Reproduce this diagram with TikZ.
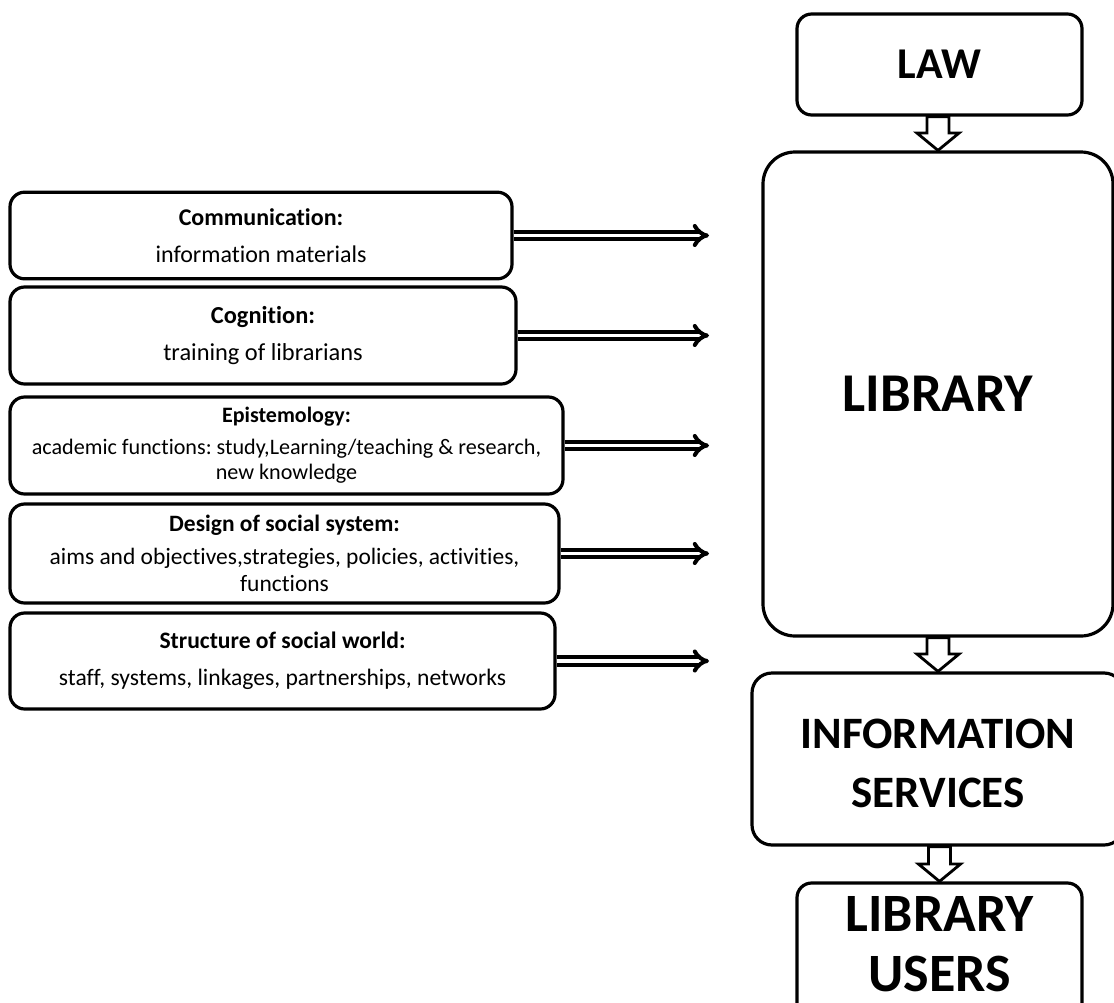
\documentclass[tikz,border=0pt]{standalone}
\usepackage{fontspec}
\setmainfont{Carlito}[Ligatures=NoCommon]
\usetikzlibrary{arrows.meta,calc}
\frenchspacing
\newcommand\hollowarrow[2]{%
  \draw[hol] let \p1=(#1.south), \p2=(#2.north) in
    (\x2-8.25pt,\y1) -- (\x2-8.25pt,\y2+13pt) -- (\x2-15.75pt,\y2+13pt)
    -- (\x2,\y2) -- (\x2+15.75pt,\y2+13pt) -- (\x2+8.25pt,\y2+13pt)
    -- (\x2+8.25pt,\y1) -- cycle;}
\begin{document}
\begin{tikzpicture}[x=0.75pt,y=-0.75pt,
  lbox/.style={draw, line width=2.4pt, rounded corners=11pt, inner sep=0pt,
    align=center, fill=white},
  rbox/.style={draw, line width=2.4pt, inner sep=0pt, align=center,
    font=\bfseries, fill=white},
  rtext/.style={inner sep=0pt, align=center},
  dbl/.style={double, line width=3pt, double distance=2.4pt, -{Implies}},
  hol/.style={draw, line width=2.1pt, fill=white, line join=miter}
]
\useasboundingbox (0,0) rectangle (1114,1003);

% left boxes
\node[lbox, minimum width=376.5pt, minimum height=65pt, font=\fontsize{18}{20}\selectfont]
  (c1) at (261,235.5) {\textbf{Communication:}\\[8pt] information materials};
\node[lbox, minimum width=379.5pt, minimum height=72.75pt, font=\fontsize{18.3}{20}\selectfont]
  (c2) at (263,335.5) {\textbf{Cognition:}\\[8pt] training of librarians};
\node[lbox, minimum width=414.75pt, minimum height=72.75pt, font=\fontsize{16.6}{19}\selectfont]
  (c3) at (286.5,445.5) {{\fontsize{16.5}{16}\selectfont\textbf{Epistemology:}}\\[5pt]
   academic functions: study,Learning/teaching \& research,\\ new knowledge};
\node[lbox, minimum width=411.75pt, minimum height=74.25pt, font=\fontsize{17.6}{20}\selectfont]
  (c4) at (284.5,553.5) {\textbf{Design of social system:}\\[5pt]
   aims and objectives,strategies, policies, activities,\\ functions};
\node[lbox, minimum width=408.75pt, minimum height=72pt, font=\fontsize{17.7}{20}\selectfont]
  (c5) at (282.5,661) {\textbf{Structure of social world:}\\[8pt]
   staff, systems, linkages, partnerships, networks};

\coordinate (tip) at (709,0);
\foreach \n in {c1,c2,c3,c4,c5}
  \draw[dbl] (\n.east) -- (\n.east -| tip);

% right column
\node[rbox, rounded corners=11pt, minimum width=213.75pt, minimum height=75.75pt,
  font=\fontsize{33}{40}\bfseries\selectfont] (law) at (939.5,64.5) {LAW};
\node[rbox, rounded corners=24pt, minimum width=262.5pt, minimum height=363pt,
  font=\fontsize{41}{46}\bfseries\selectfont] (lib) at (938,394) {LIBRARY};
\node[rbox, rounded corners=15pt, minimum width=279pt, minimum height=129pt] (info) at (938,759) {};
\node[rtext, font=\fontsize{33.7}{44}\bfseries\selectfont] (infotext)
  at ([yshift=-3.4pt]info.center) {INFORMATION\\SERVICES};
\node[rbox, rounded corners=11pt, minimum width=213.75pt, minimum height=102.75pt] (users) at (939.5,951.5) {};
\node[rtext, font=\fontsize{40.5}{45}\bfseries\selectfont] (userstext)
  at ([yshift=5.6pt]users.center) {LIBRARY\\USERS};

\hollowarrow{law}{lib}
\hollowarrow{lib}{info}
\hollowarrow{info}{users}
\end{tikzpicture}
\end{document}
